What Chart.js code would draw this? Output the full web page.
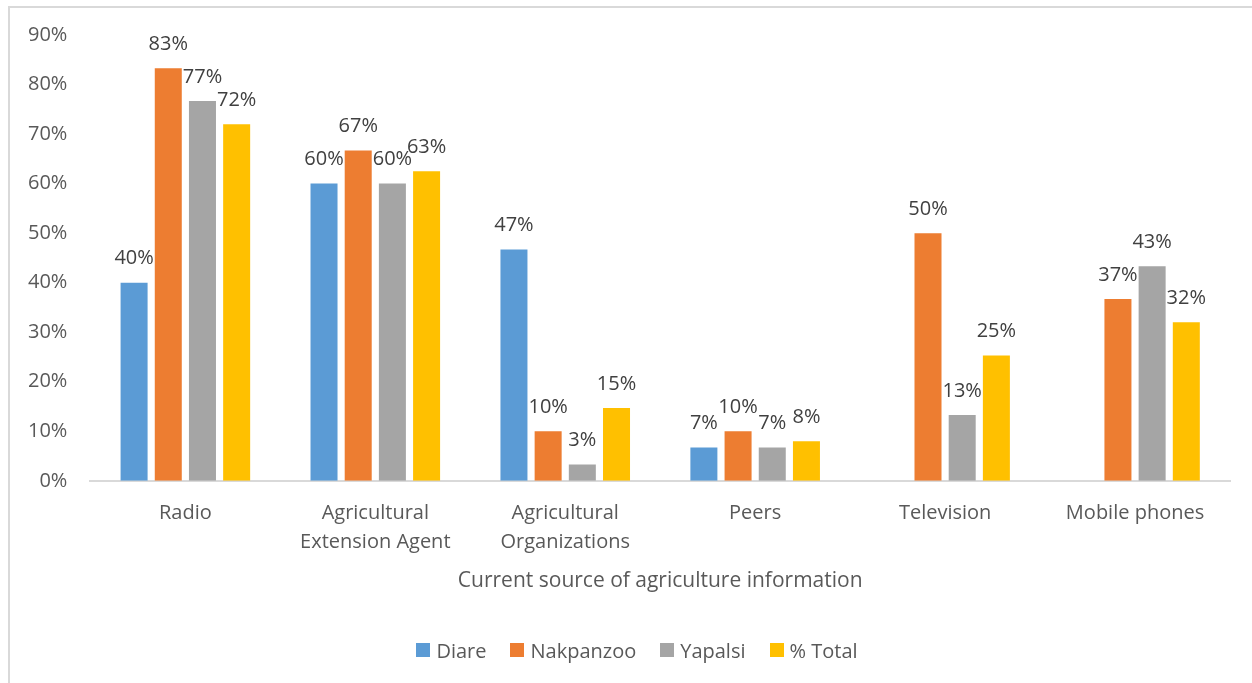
<!DOCTYPE html>
<html lang="en">
<head>
  <meta charset="UTF-8">
  <title>Current source of agriculture information</title>
  <script src="https://cdn.jsdelivr.net/npm/chart.js"></script>
  <style>
    html, body { margin: 0; padding: 0; background: #fff; }
    .frame {
      position: absolute; left: 8px; top: 6px; width: 1260px; height: 700px;
      border: 2px solid #d9d9d9; box-sizing: border-box;
    }
    .wrap { position: absolute; left: 0; top: 0; width: 1252px; height: 683px; }
    #legend {
      position: absolute; left: 20px; width: 1234px; top: 638px; height: 24px;
      display: flex; justify-content: center; align-items: center; gap: 24px;
      font: 20px 'Open Sans', sans-serif; color: #595959;
    }
    #legend span.item { display: flex; align-items: center; }
    #legend i { display: inline-block; width: 14px; height: 14px; margin-right: 6px; }
  </style>
</head>
<body>
  <div class="frame"></div>
  <div class="wrap"><canvas id="chart" width="1252" height="683"></canvas></div>
  <div id="legend"></div>
  <script>
    // categories and series (share of respondents, %)
    const sources = ['Radio', ['Agricultural', 'Extension Agent'], ['Agricultural', 'Organizations'], 'Peers', 'Television', 'Mobile phones'];
    const diare = [40, 60, 46.7, 6.7, 0, 0];
    const nakpanzoo = [83.3, 66.7, 10, 10, 50, 36.7];
    const yapalsi = [76.7, 60, 3.3, 6.7, 13.3, 43.3];
    const total = [72, 62.5, 14.7, 8, 25.3, 32];
    const yTicks = [0, 10, 20, 30, 40, 50, 60, 70, 80, 90];

    const FONT = "'Open Sans', sans-serif";

    // value labels above each bar
    const barLabels = {
      id: 'barLabels',
      afterDatasetsDraw(chart) {
        const ctx = chart.ctx;
        ctx.save();
        ctx.font = '20px ' + FONT;
        ctx.fillStyle = '#404040';
        ctx.textAlign = 'center';
        ctx.textBaseline = 'middle';
        chart.data.datasets.forEach((ds, i) => {
          chart.getDatasetMeta(i).data.forEach((bar, j) => {
            const v = ds.data[j];
            if (!v) return;
            ctx.fillText(Math.round(v) + '%', bar.x, bar.y - 24);
          });
        });
        ctx.restore();
      }
    };

    const chart = new Chart(document.getElementById('chart'), {
      type: 'bar',
      data: {
        labels: sources,
        datasets: [
          { label: 'Diare', data: diare, backgroundColor: '#5B9BD5' },
          { label: 'Nakpanzoo', data: nakpanzoo, backgroundColor: '#ED7D31' },
          { label: 'Yapalsi', data: yapalsi, backgroundColor: '#A5A5A5' },
          { label: '% Total', data: total, backgroundColor: '#FFC000' }
        ]
      },
      options: {
        responsive: false,
        animation: false,
        categoryPercentage: 0.72,
        barPercentage: 0.79,
        layout: { padding: { left: 5, right: 22, top: 28, bottom: 67 } },
        plugins: {
          legend: { display: false },
          tooltip: { enabled: false }
        },
        scales: {
          x: {
            grid: { display: false, drawTicks: false },
            border: { color: '#d9d9d9', width: 2 },
            ticks: {
              color: '#595959', padding: 18, maxRotation: 0,
              font: { family: FONT, size: 20, lineHeight: 1.45 }
            },
            title: {
              display: true, text: 'Current source of agriculture information',
              color: '#595959', font: { family: FONT, size: 21 }, padding: { top: -6, bottom: 22 }
            }
          },
          y: {
            min: 0, max: 90,
            afterBuildTicks(scale) { scale.ticks = yTicks.map(v => ({ value: v })); },
            grid: { display: false, drawTicks: false },
            border: { display: false },
            ticks: {
              color: '#595959', padding: 23, font: { family: FONT, size: 20 },
              callback: v => v + '%'
            }
          }
        }
      },
      plugins: [barLabels]
    });

    // legend built from the datasets, centred under the plot
    const legend = document.getElementById('legend');
    chart.data.datasets.forEach(ds => {
      const item = document.createElement('span');
      item.className = 'item';
      item.innerHTML = `<i style="background:${ds.backgroundColor}"></i>${ds.label}`;
      legend.appendChild(item);
    });
  </script>
</body>
</html>
